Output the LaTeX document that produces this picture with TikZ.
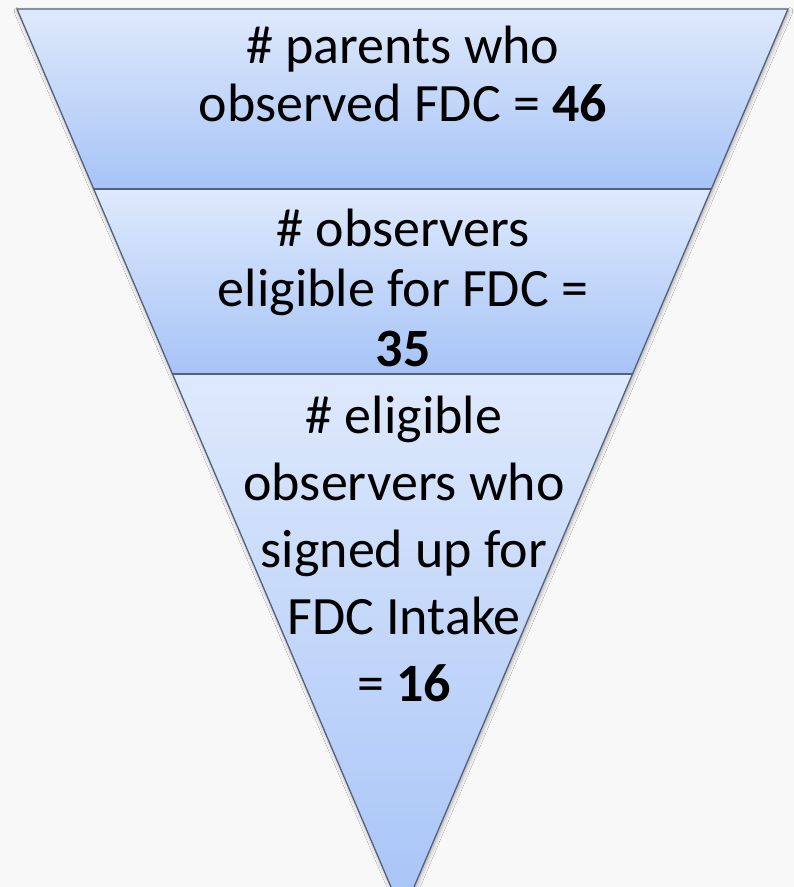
\documentclass[tikz,border=0pt]{standalone}
\usepackage{fontspec}
\setmainfont{Carlito}
\usetikzlibrary{shadows.blur}

\definecolor{bandtop}{HTML}{DEE9FC}
\definecolor{bandbot}{HTML}{A7C4F7}
\definecolor{edgeline}{HTML}{55617A}
\definecolor{paper}{HTML}{F8F8F8}

\begin{document}
\begin{tikzpicture}[x=1pt,y=-1pt]
  \tikzstyle{funnelband}=[top color=bandtop,bottom color=bandbot,draw=edgeline,line width=1.3pt,line join=miter]
  \tikzstyle{bandtext}=[align=center,inner sep=0pt,text=black]

  \fill[paper] (0,0) rectangle (794,887);
  \useasboundingbox (0,0) rectangle (794,887);

  % corners of the funnel
  \coordinate (top_l) at (17,9);
  \coordinate (top_r) at (788,9);
  \coordinate (mid1_l) at (93.7,189);
  \coordinate (mid1_r) at (711.3,189);
  \coordinate (mid2_l) at (172.5,374);
  \coordinate (mid2_r) at (632.5,374);
  \coordinate (apex)  at (402.5,914);

  % shadow under the whole funnel
  \fill[paper,blur shadow={shadow xshift=1pt,shadow yshift=-2pt,shadow blur radius=4pt,shadow opacity=35}]
    (top_l) -- (top_r) -- (apex) -- cycle;

  \path[funnelband] (top_l) -- (top_r) -- (mid1_r) -- (mid1_l) -- cycle;
  \path[funnelband] (mid1_l) -- (mid1_r) -- (mid2_r) -- (mid2_l) -- cycle;
  \path[funnelband] (mid2_l) -- (mid2_r) -- (apex) -- cycle;
  \draw[edgeline,line width=1.8pt] (mid1_l) -- (mid1_r);
  \draw[edgeline,line width=1.8pt] (mid2_l) -- (mid2_r);

  \node[bandtext,font=\fontsize{54}{58}\selectfont] (lvl_1) at (403,74)
    {\# parents who\\observed FDC = \textbf{46}};
  \node[bandtext,font=\fontsize{54}{60}\selectfont] (lvl_2) at (403,288)
    {\# observers\\eligible for FDC =\\\textbf{35}};
  \node[bandtext,font=\fontsize{54}{67}\selectfont] (lvl_3) at (404,549)
    {\# eligible\\observers who\\signed up for\\FDC Intake\\= \textbf{16}};
\end{tikzpicture}
\end{document}
